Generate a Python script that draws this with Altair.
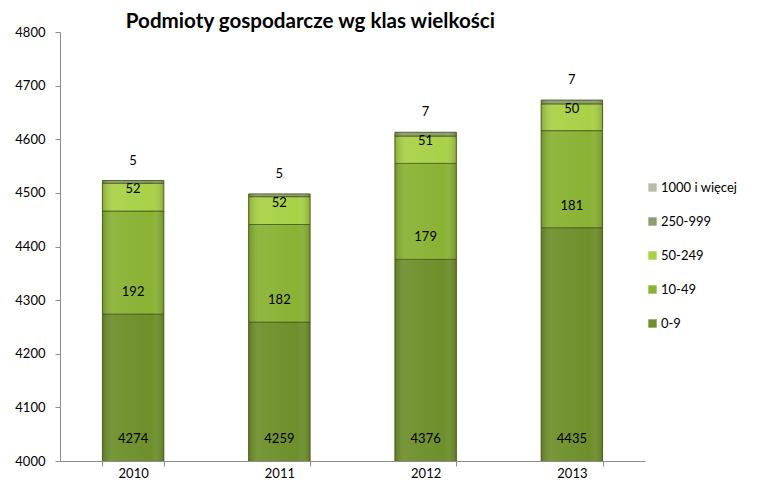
import altair as alt
import pandas as pd

years = ["2010", "2011", "2012", "2013"]
classes = ["0-9", "10-49", "50-249", "250-999", "1000 i więcej"]
v_0_9 = [4274, 4259, 4376, 4435]
v_10_49 = [192, 182, 179, 181]
v_50_249 = [52, 52, 51, 50]
v_250_999 = [5, 5, 7, 7]
v_1000 = [0, 0, 0, 0]

series = [v_0_9, v_10_49, v_50_249, v_250_999, v_1000]
rows = []
for ci, (cls, vals) in enumerate(zip(classes, series)):
    for y, v in zip(years, vals):
        rows.append({"year": y, "cls": cls, "order": ci, "value": v})
df = pd.DataFrame(rows)

legend_order = ["1000 i więcej", "250-999", "50-249", "10-49", "0-9"]
legend_colors = ["#b7bda9", "#8d9c72", "#a9d147", "#8ab234", "#6e8f2b"]
FONT = "Lato"

base = alt.Chart(df).transform_stack(
    stack="value", as_=["y0", "y1"], groupby=["year"], sort=[{"field": "order", "order": "ascending"}]
)

x_enc = alt.X("year:N", title=None,
              scale=alt.Scale(paddingInner=0.58, paddingOuter=0.29),
              axis=alt.Axis(labelAngle=0, tickBand="extent", tickSize=5, labelPadding=1,
                            domainColor="#8c8c8c", tickColor="#8c8c8c", labelFontSize=13,
                            labelColor="#000000", labelFont=FONT))
y_scale = alt.Scale(domain=[4000, 4800], nice=False, zero=False)

bars = base.transform_filter("datum.value > 0").mark_bar(clip=True, stroke="#4e6321", strokeWidth=1).encode(
    x=x_enc,
    y=alt.Y("y0:Q", scale=y_scale, title=None,
            axis=alt.Axis(values=list(range(4000, 4801, 100)), format="d", grid=False, tickSize=5,
                          labelPadding=10, domainColor="#8c8c8c", tickColor="#8c8c8c", labelFontSize=13,
                          labelColor="#000000", labelFont=FONT)),
    y2="y1:Q",
    color=alt.Color("cls:N", scale=alt.Scale(domain=legend_order, range=legend_colors),
                    legend=alt.Legend(title=None, orient="none", legendX=586, legendY=149,
                                      symbolType="square", symbolSize=70, symbolStrokeWidth=0,
                                      labelFontSize=13, labelFont=FONT, labelColor="#000000",
                                      rowPadding=20, labelOffset=2)),
)

shade = base.transform_filter("datum.value > 0").mark_bar(
    clip=True,
    color=alt.Gradient(gradient="linear", x1=0, x2=1, y1=0, y2=0,
                       stops=[alt.GradientStop(color="rgba(40,60,0,0.25)", offset=0),
                              alt.GradientStop(color="rgba(255,255,255,0.06)", offset=0.2),
                              alt.GradientStop(color="rgba(255,255,255,0.0)", offset=0.8),
                              alt.GradientStop(color="rgba(40,60,0,0.25)", offset=1)]),
).encode(x="year:N", y=alt.Y("y0:Q", scale=y_scale), y2="y1:Q")

inner_labels = base.transform_filter("datum.order <= 2").transform_calculate(
    ly="max(datum.y0, 4000)"
).mark_text(dy=-22, fontSize=13, font=FONT, color="#000000").encode(
    x="year:N", y=alt.Y("ly:Q", scale=y_scale), text="value:Q"
)

top_labels = base.transform_filter("datum.order == 3").mark_text(
    dy=-20, fontSize=13, font=FONT, color="#000000"
).encode(x="year:N", y=alt.Y("y1:Q", scale=y_scale), text="value:Q")

chart = alt.layer(bars, shade, inner_labels, top_labels).properties(
    width=585, height=429,
    title=alt.TitleParams("Podmioty gospodarcze wg klas wielkości", anchor="start", dx=111, dy=17,
                          fontSize=20.6, font=FONT, fontWeight="bold", color="#000000", offset=10),
    autosize=alt.AutoSizeParams(type="none"),
    padding={"left": 52, "top": 24, "right": 100, "bottom": 19},
).configure_view(stroke=None)

chart.save("out.html", embed_options={"renderer": "svg", "actions": False})
